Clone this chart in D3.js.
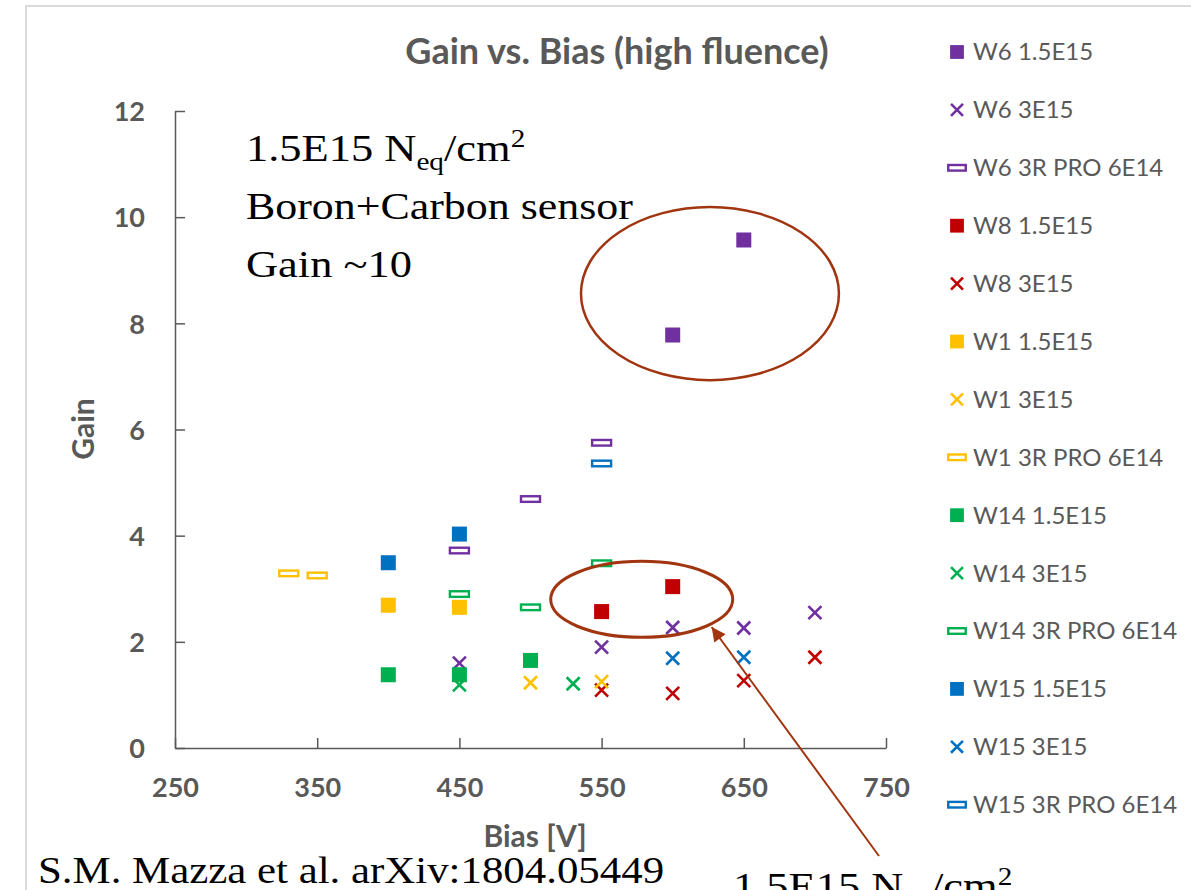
<!DOCTYPE html>
<html>
<head>
<meta charset="utf-8">
<script src="https://cdn.jsdelivr.net/npm/d3@7"></script>
<style>
  html, body { margin: 0; padding: 0; background: #fff; }
  svg { display: block; }
</style>
</head>
<body>
<svg id="chart" width="1191" height="890"></svg>
<script>
// ---- data: gain vs. bias voltage per sensor / fluence ----
const seriesNames = [
  "W6 1.5E15", "W6 3E15", "W6 3R PRO 6E14",
  "W8 1.5E15", "W8 3E15",
  "W1 1.5E15", "W1 3E15", "W1 3R PRO 6E14",
  "W14 1.5E15", "W14 3E15", "W14 3R PRO 6E14",
  "W15 1.5E15", "W15 3E15", "W15 3R PRO 6E14"
];
const seriesColors = [
  "#7030a0", "#7030a0", "#7030a0",
  "#c00000", "#c00000",
  "#ffc000", "#ffc000", "#ffc000",
  "#00b050", "#00b050", "#00b050",
  "#0070c0", "#0070c0", "#0070c0"
];
const seriesMarkers = [
  "square", "cross", "dash",
  "square", "cross",
  "square", "cross", "dash",
  "square", "cross", "dash",
  "square", "cross", "dash"
];
const w6_15E15  = [[600, 7.78], [650, 9.57]];
const w6_3E15   = [[450, 1.60], [550, 1.90], [600, 2.27], [650, 2.26], [700, 2.55]];
const w6_3R     = [[450, 3.72], [500, 4.69], [550, 5.75]];
const w8_15E15  = [[550, 2.57], [600, 3.04]];
const w8_3E15   = [[550, 1.09], [600, 1.03], [650, 1.27], [700, 1.71]];
const w1_15E15  = [[400, 2.69], [450, 2.65]];
const w1_3E15   = [[500, 1.23], [550, 1.25]];
const w1_3R     = [[330, 3.29], [350, 3.25]];
const w14_15E15 = [[400, 1.38], [450, 1.38], [500, 1.65]];
const w14_3E15  = [[450, 1.19], [530, 1.21]];
const w14_3R    = [[450, 2.90], [500, 2.65], [550, 3.48]];
const w15_15E15 = [[400, 3.49], [450, 4.03]];
const w15_3E15  = [[600, 1.69], [650, 1.71]];
const w15_3R    = [[550, 5.36]];
const seriesValues = [
  w6_15E15, w6_3E15, w6_3R, w8_15E15, w8_3E15,
  w1_15E15, w1_3E15, w1_3R, w14_15E15, w14_3E15, w14_3R,
  w15_15E15, w15_3E15, w15_3R
];
const xTicks = [250, 350, 450, 550, 650, 750];
const yTicks = [0, 2, 4, 6, 8, 10, 12];

// ---- layout ----
const svg = d3.select("#chart");
const textGray = "#595959";
const axisGray = "#595959";
const annotColor = "#a0350f";
const sansFont = "Lato, 'Open Sans', sans-serif";
const serifFont = "'Liberation Serif', 'DejaVu Serif', serif";

const x = d3.scaleLinear().domain([250, 750]).range([175, 886]);
const y = d3.scaleLinear().domain([0, 12]).range([748, 111]);

svg.append("rect").attr("width", 1191).attr("height", 890).attr("fill", "#fff");

// chart frame (extends past the visible area on right and bottom)
svg.append("rect")
  .attr("x", 26).attr("y", 6).attr("width", 1300).attr("height", 1000)
  .attr("fill", "none").attr("stroke", "#d9d9d9").attr("stroke-width", 2);

// title
svg.append("text")
  .attr("x", 617).attr("y", 64)
  .attr("text-anchor", "middle")
  .attr("font-family", sansFont).attr("font-weight", 700)
  .attr("font-size", 36).attr("fill", textGray)
  .text("Gain vs. Bias (high fluence)");

// axes
const xAxis = svg.append("g")
  .attr("transform", `translate(0,${y(0)})`)
  .call(d3.axisBottom(x).tickValues(xTicks).tickSizeInner(-10).tickSizeOuter(0).tickPadding(30));
const yAxis = svg.append("g")
  .attr("transform", `translate(${x(250)},0)`)
  .call(d3.axisLeft(y).tickValues(yTicks).tickSizeInner(-10).tickSizeOuter(0).tickPadding(30));

[xAxis, yAxis].forEach(g => {
  g.select(".domain").attr("stroke", axisGray).attr("stroke-width", 1.5);
  g.selectAll(".tick line").attr("stroke", axisGray).attr("stroke-width", 1.5);
  g.selectAll(".tick text")
    .attr("font-family", sansFont).attr("font-weight", 700)
    .attr("font-size", 27).attr("fill", textGray);
});
yAxis.selectAll(".tick text").attr("dy", "0.36em");

// axis titles
svg.append("text")
  .attr("x", 535).attr("y", 847)
  .attr("text-anchor", "middle")
  .attr("font-family", sansFont).attr("font-weight", 700)
  .attr("font-size", 30).attr("fill", textGray)
  .text("Bias [V]");
svg.append("text")
  .attr("transform", "translate(94,429) rotate(-90)")
  .attr("text-anchor", "middle")
  .attr("font-family", sansFont).attr("font-weight", 700)
  .attr("font-size", 30).attr("fill", textGray)
  .text("Gain");

// marker drawing
function drawMarker(sel, type, color, scale) {
  const s = scale || 1;
  if (type === "square") {
    sel.append("rect")
      .attr("x", -7.5 * s).attr("y", -7.5 * s).attr("width", 15 * s).attr("height", 15 * s)
      .attr("fill", color);
  } else if (type === "cross") {
    const r = 6.5 * s;
    sel.append("path")
      .attr("d", `M${-r},${-r}L${r},${r}M${-r},${r}L${r},${-r}`)
      .attr("stroke", color).attr("stroke-width", 2.6).attr("fill", "none");
  } else {
    sel.append("rect")
      .attr("x", -9.5 * s).attr("y", -2.8).attr("width", 19 * s).attr("height", 5.6)
      .attr("fill", "#fff").attr("stroke", color).attr("stroke-width", 2.4);
  }
}

// data marks
const plot = svg.append("g");
seriesValues.forEach((vals, i) => {
  const g = plot.append("g").attr("class", "series");
  vals.forEach(d => {
    const m = g.append("g").attr("transform", `translate(${x(d[0])},${y(d[1])})`);
    drawMarker(m, seriesMarkers[i], seriesColors[i], 1);
  });
});

// legend
const legend = svg.append("g");
seriesNames.forEach((name, i) => {
  const row = legend.append("g").attr("transform", `translate(957,${52 + i * 57.9})`);
  drawMarker(row, seriesMarkers[i], seriesColors[i], 0.92);
  row.append("text")
    .attr("x", 16).attr("dy", "0.35em")
    .attr("font-family", sansFont).attr("font-size", 24).attr("fill", textGray)
    .text(name);
});

// highlighted groups
svg.append("ellipse")
  .attr("cx", x(626.2)).attr("cy", y(8.56))
  .attr("rx", x(626.2 + 90.7) - x(626.2)).attr("ry", y(8.56) - y(8.56 + 1.63))
  .attr("fill", "none").attr("stroke", annotColor).attr("stroke-width", 2.5);
svg.append("ellipse")
  .attr("cx", x(578.2)).attr("cy", y(2.80))
  .attr("rx", x(578.2 + 64) - x(578.2)).attr("ry", y(2.80) - y(2.80 + 0.716))
  .attr("fill", "none").attr("stroke", annotColor).attr("stroke-width", 3);

// arrow to the lower group
const defs = svg.append("defs");
defs.append("marker")
  .attr("id", "arrowhead")
  .attr("viewBox", "0 0 10 10").attr("refX", 10).attr("refY", 5)
  .attr("markerUnits", "userSpaceOnUse")
  .attr("markerWidth", 17).attr("markerHeight", 14)
  .attr("orient", "auto")
  .append("path").attr("d", "M0,0L10,5L0,10Z").attr("fill", annotColor);
svg.append("line")
  .attr("x1", 879).attr("y1", 856)
  .attr("x2", x(627.4)).attr("y2", y(2.28))
  .attr("stroke", annotColor).attr("stroke-width", 2)
  .attr("marker-end", "url(#arrowhead)");

// annotation text (serif, horizontally widened to a Garamond-like set width)
const note = svg.append("g")
  .attr("font-family", serifFont).attr("font-size", 38).attr("fill", "#000");

function fluenceLabel(px, py, sx) {
  const t = note.append("text").attr("transform", `translate(${px},${py}) scale(${sx},1)`);
  t.append("tspan").text("1.5E15 N");
  t.append("tspan").attr("font-size", 25).attr("dy", 9).text("eq");
  t.append("tspan").attr("dy", -9).text("/cm");
  t.append("tspan").attr("font-size", 25).attr("dy", -14).text("2");
  return t;
}
function plainLabel(px, py, sx, str) {
  return note.append("text").attr("transform", `translate(${px},${py}) scale(${sx},1)`).text(str);
}

fluenceLabel(246, 161, 1.17);
plainLabel(246, 219, 1.155, "Boron+Carbon sensor");
plainLabel(246, 277, 1.17, "Gain ~10");
plainLabel(38, 883, 1.128, "S.M. Mazza et al. arXiv:1804.05449");
fluenceLabel(733, 899, 1.17);
</script>
</body>
</html>
